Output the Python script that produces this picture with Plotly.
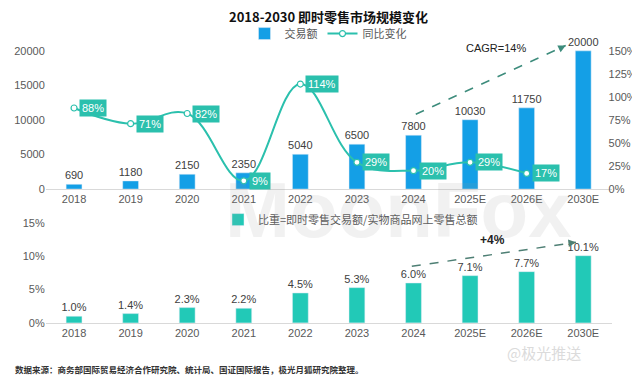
import plotly.graph_objects as go

categories = ["2018", "2019", "2020", "2021", "2022", "2023", "2024", "2025E", "2026E", "2030E"]
gmv = [690, 1180, 2150, 2350, 5040, 6500, 7800, 10030, 11750, 20000]
yoy_categories = ["2018", "2019", "2020", "2021", "2022", "2023", "2024", "2025E", "2026E"]
yoy = [0.88, 0.71, 0.82, 0.09, 1.14, 0.29, 0.20, 0.29, 0.17]
share = [0.010, 0.014, 0.023, 0.022, 0.045, 0.053, 0.060, 0.071, 0.077, 0.101]

BLUE = "#149fe6"
TEAL = "#2bc0ad"
TEAL_BAR = "#22c9b7"
GRAY = "#595959"
FONT = "Noto Sans CJK SC"

fig = go.Figure()

fig.add_trace(go.Bar(
    x=categories, y=gmv, name="交易额", marker_color=BLUE, width=0.28,
    text=[str(v) for v in gmv], textposition="outside", cliponaxis=False, constraintext="none",
    textfont=dict(size=11, color="#404040", family="Arial"),
    xaxis="x", yaxis="y", legend="legend",
))
fig.add_trace(go.Scatter(
    x=yoy_categories, y=yoy, name="同比变化", mode="lines+markers",
    line=dict(color=TEAL, width=2, shape="spline", smoothing=1.1),
    marker=dict(size=6, color="white", line=dict(color=TEAL, width=1.2)),
    xaxis="x", yaxis="y2", legend="legend",
))
fig.add_trace(go.Bar(
    x=categories, y=share, name="比重=即时零售交易额/实物商品网上零售总额",
    marker_color=TEAL_BAR, width=0.28,
    text=[f"{v*100:.1f}%" for v in share], textposition="outside", cliponaxis=False, constraintext="none",
    textfont=dict(size=11, color="#404040", family="Arial"),
    xaxis="x2", yaxis="y3", legend="legend2",
))

annotations = []
for c, v in zip(yoy_categories, yoy):
    annotations.append(dict(
        x=categories.index(c), y=v, xref="x", yref="y2", text=f"{round(v*100)}%", showarrow=False,
        xanchor="left", xshift=5, bgcolor=TEAL, borderpad=2,
        font=dict(color="white", size=11, family="Arial"),
    ))

# CAGR arrow (top)
cagr_start = (6.04, 10820)
cagr_end = (8.69, 20780)
# +4% arrow (bottom)
share_start = (5.97, 0.085)
share_end = (8.87, 0.121)

shapes = [
    dict(type="line", xref="x", yref="y", x0=cagr_start[0], y0=cagr_start[1],
         x1=cagr_end[0], y1=cagr_end[1], line=dict(color="#3d8c7c", width=1.5, dash="dash")),
    dict(type="line", xref="x2", yref="y3", x0=share_start[0], y0=share_start[1],
         x1=share_end[0], y1=share_end[1], line=dict(color="#4e7f74", width=1.5, dash="dash")),
]
annotations += [
    dict(x=cagr_end[0], y=cagr_end[1], xref="x", yref="y", ax=-8, ay=4, showarrow=True,
         arrowhead=2, arrowsize=1, arrowwidth=1.5, arrowcolor="#3d8c7c", text=""),
    dict(x=share_end[0], y=share_end[1], xref="x2", yref="y3", ax=-8, ay=1, showarrow=True,
         arrowhead=2, arrowsize=1, arrowwidth=1.5, arrowcolor="#4e7f74", text=""),
    dict(x=7.45, y=20400, xref="x", yref="y", text="CAGR=14%", showarrow=False,
         font=dict(size=11, color="#222", family="Arial")),
    dict(x=7.4, y=0.125, xref="x2", yref="y3", text="<b>+4%</b>", showarrow=False,
         font=dict(size=12, color="#222", family="Arial")),
    dict(x=0.5, y=1 - 9/378, xref="paper", yref="paper", yanchor="middle",
         text="<b>2018-2030 即时零售市场规模变化</b>",
         showarrow=False, font=dict(size=13, color="#111", family=FONT)),
    dict(x=5/640, y=1 - 367/378, xref="paper", yref="paper", xanchor="left", yanchor="middle",
         text="<b>数据来源：商务部国际贸易经济合作研究院、统计局、国证国际报告，极光月狐研究院整理。</b>",
         showarrow=False, font=dict(size=8.5, color="#333", family=FONT)),
    dict(x=390/640, y=1 - 205/378, xref="paper", yref="paper", yanchor="middle", text="<b>MoonFox</b>",
         showarrow=False, opacity=0.13, font=dict(size=78, color="#9a9a9a", family="Arial")),
    dict(x=575/640, y=1 - 350/378, xref="paper", yref="paper", yanchor="middle", text="@极光推送",
         showarrow=False, opacity=0.35, font=dict(size=15, color="#999", family=FONT)),
]

axis_font = dict(size=11, color=GRAY, family="Arial")
xr = [-0.5, len(categories) - 0.5]
fig.update_layout(
    width=640, height=378, margin=dict(l=0, r=0, t=0, b=0),
    paper_bgcolor="white", plot_bgcolor="rgba(0,0,0,0)",
    showlegend=True, bargap=0.7,
    xaxis=dict(domain=[0.059, 0.943], anchor="y", type="category", categoryorder="array",
               categoryarray=categories, range=xr, autorange=False, showgrid=False,
               showline=True, linecolor="#d9d9d9", ticks="", tickfont=axis_font),
    yaxis=dict(domain=[1 - 184/378, 1 - 29.5/378], range=[0, 22000], tickvals=[0, 5000, 10000, 15000, 20000],
               tickformat="d", showgrid=False, zeroline=False, tickfont=axis_font, anchor="x"),
    yaxis2=dict(overlaying="y", side="right", range=[0, 1.65], tickvals=[0, .25, .5, .75, 1, 1.25, 1.5],
                tickformat=".0%", showgrid=False, zeroline=False, tickfont=axis_font, anchor="x",
                ticklabelstandoff=-4),
    xaxis2=dict(domain=[0.059, 0.943], anchor="y3", type="category", categoryorder="array",
                categoryarray=categories, range=xr, autorange=False, showgrid=False,
                showline=True, linecolor="#d9d9d9", ticks="", tickfont=axis_font),
    yaxis3=dict(domain=[1 - 320/378, 1 - 205/378], range=[0, 0.17], tickvals=[0, .05, .10, .15],
                tickformat=".0%", showgrid=False, zeroline=False, tickfont=axis_font, anchor="x2"),
    legend=dict(orientation="h", x=0.5, xanchor="center", y=1 - 26/378, yanchor="middle",
                font=dict(size=11, color=GRAY, family=FONT), bgcolor="rgba(0,0,0,0)"),
    legend2=dict(orientation="h", x=210/640, xanchor="left", y=1 - 215/378, yanchor="middle",
                 font=dict(size=11, color=GRAY, family=FONT), bgcolor="rgba(0,0,0,0)"),
    shapes=shapes, annotations=annotations,
)

fig.write_html("out.html")
